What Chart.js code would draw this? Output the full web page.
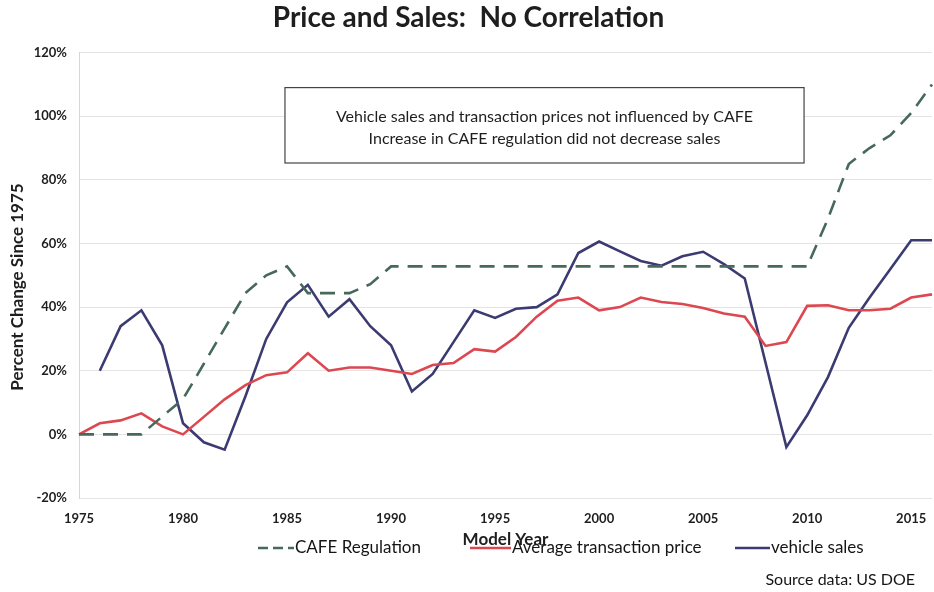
<!DOCTYPE html>
<html lang="en">
<head>
  <meta charset="UTF-8" />
  <title>Price and Sales: No Correlation</title>
  <style>
    html, body { margin: 0; padding: 0; background: #fff; overflow: hidden; }
  </style>
</head>
<body>

  <div style="width: 937px; height: 592px;">
    <canvas id="myChart" width="937" height="592"></canvas>
  </div>

  <script src="https://cdn.jsdelivr.net/npm/chart.js"></script>

  <script>
    // model years (category axis)
    const years = [1975, 1976, 1977, 1978, 1979, 1980, 1981, 1982, 1983, 1984,
      1985, 1986, 1987, 1988, 1989, 1990, 1991, 1992, 1993, 1994,
      1995, 1996, 1997, 1998, 1999, 2000, 2001, 2002, 2003, 2004,
      2005, 2006, 2007, 2008, 2009, 2010, 2011, 2012, 2013, 2014,
      2015, 2016];

    // percent change since 1975
    const cafeRegulation = [0, 0, 0, 0, 5.6, 11.1, 22.2, 33.3, 44.4, 50,
      52.8, 44.4, 44.4, 44.4, 47.2, 52.8, 52.8, 52.8, 52.8, 52.8,
      52.8, 52.8, 52.8, 52.8, 52.8, 52.8, 52.8, 52.8, 52.8, 52.8,
      52.8, 52.8, 52.8, 52.8, 52.8, 52.8, 67.8, 85, 90, 94,
      101, 110];

    const avgPrice = [0, 3.5, 4.4, 6.6, 2.5, 0, 5.5, 11, 15.5, 18.6,
      19.5, 25.5, 20, 21, 21, 20, 19, 21.8, 22.4, 26.8,
      26, 30.6, 37, 42, 43, 39, 40, 43, 41.6, 41,
      39.7, 38, 37, 27.8, 29, 40.4, 40.6, 39, 39, 39.5,
      43, 44];

    const vehicleSales = [null, 20, 34, 39, 28, 3.5, -2.5, -4.8, 12, 30,
      41.5, 47, 37, 42.5, 34, 28, 13.5, 19, 29, 39,
      36.6, 39.5, 40, 44, 57, 60.6, 57.5, 54.5, 53, 56,
      57.4, 53.5, 49, 22.5, -4, 6, 18, 33.5, 43, 52,
      61, 61];

    const yMin = -20;
    const yMax = 120;
    const yStep = 20;
    const labelEvery = 5;

    const yTitle = 'Percent Change Since 1975';
    const noteLines = [
      'Vehicle sales and transaction prices not influenced by CAFE',
      'Increase in CAFE regulation did not decrease sales'
    ];
    const sourceText = 'Source data: US DOE';

    const FONT = "Lato, 'DejaVu Sans', sans-serif";
    const cafeColor = '#46695a';
    const priceColor = '#dc4750';
    const salesColor = '#3b3b72';

    Chart.defaults.font.family = FONT;
    Chart.defaults.color = '#1e1e1e';

    // y title, text box, legend and source note
    const extras = {
      id: 'extras',
      afterDraw(chart) {
        const ctx = chart.ctx;
        const x = chart.scales.x, y = chart.scales.y;
        ctx.save();

        // y axis title
        ctx.save();
        ctx.translate(18, 287);
        ctx.rotate(-Math.PI / 2);
        ctx.font = 'bold 17px ' + FONT;
        ctx.fillStyle = '#1e1e1e';
        ctx.textAlign = 'center';
        ctx.textBaseline = 'middle';
        ctx.fillText(yTitle, 0, 0);
        ctx.restore();

        // note box
        const bl = x.getPixelForValue(9.9), br = x.getPixelForValue(34.85);
        const bt = y.getPixelForValue(109), bb = y.getPixelForValue(85.3);
        ctx.fillStyle = '#fff';
        ctx.fillRect(bl, bt, br - bl, bb - bt);
        ctx.strokeStyle = '#444';
        ctx.lineWidth = 1.2;
        ctx.strokeRect(bl, bt, br - bl, bb - bt);
        ctx.fillStyle = '#1e1e1e';
        ctx.font = '16px ' + FONT;
        ctx.textAlign = 'center';
        ctx.textBaseline = 'middle';
        const cx = (bl + br) / 2;
        ctx.fillText(noteLines[0], cx, bt + 29);
        ctx.fillText(noteLines[1], cx, bt + 51);

        // legend
        const ly = 548;
        const items = [
          { text: chart.data.datasets[0].label, color: cafeColor, dash: [10, 5], x1: 258, x2: 294 },
          { text: chart.data.datasets[1].label, color: priceColor, dash: [], x1: 470, x2: 511 },
          { text: chart.data.datasets[2].label, color: salesColor, dash: [], x1: 735, x2: 770 }
        ];
        ctx.textAlign = 'left';
        ctx.font = '17px ' + FONT;
        items.forEach((it) => {
          ctx.beginPath();
          ctx.setLineDash(it.dash);
          ctx.strokeStyle = it.color;
          ctx.lineWidth = 2.5;
          ctx.moveTo(it.x1, ly);
          ctx.lineTo(it.x2, ly);
          ctx.stroke();
          ctx.setLineDash([]);
          ctx.fillStyle = '#151515';
          ctx.fillText(it.text, it.x2 + 1, ly);
        });

        // source
        ctx.font = '16px ' + FONT;
        ctx.textAlign = 'right';
        ctx.fillText(sourceText, 915, 580);
        ctx.restore();
      }
    };

    const context = document.getElementById('myChart').getContext('2d');
    const myChart = new Chart(context, {
      type: 'line',
      data: {
        labels: years,
        datasets: [
          {
            label: 'CAFE Regulation',
            data: cafeRegulation,
            borderColor: cafeColor,
            borderDash: [15, 9],
            borderWidth: 2.6
          },
          {
            label: 'Average transaction price',
            data: avgPrice,
            borderColor: priceColor,
            borderWidth: 2.6
          },
          {
            label: 'vehicle sales',
            data: vehicleSales,
            borderColor: salesColor,
            borderWidth: 2.6
          }
        ]
      },
      options: {
        responsive: false,
        animation: false,
        layout: { padding: 0 },
        elements: {
          point: { radius: 0 },
          line: { tension: 0, fill: false }
        },
        plugins: {
          legend: { display: false },
          tooltip: { enabled: false },
          title: {
            display: true,
            text: 'Price and Sales:  No Correlation',
            color: '#1e1e1e',
            font: { size: 28, weight: 'bold' },
            padding: { top: 1, bottom: 18 }
          }
        },
        scales: {
          x: {
            offset: false,
            grid: { display: false },
            border: { display: false },
            ticks: {
              autoSkip: false,
              maxRotation: 0,
              padding: 5,
              font: { size: 13, weight: 'bold' },
              callback: function (value, index) {
                const yr = years[index];
                return (yr % labelEvery === 0) ? String(yr) : '';
              }
            },
            title: {
              display: true,
              text: 'Model Year',
              font: { size: 17, weight: 'bold' },
              padding: { top: 0, bottom: 42 }
            },
            afterFit: (scale) => { scale.height = 94; }
          },
          y: {
            min: yMin,
            max: yMax,
            grid: { color: '#e4e4e4', drawTicks: false },
            border: { display: true, color: '#d6d6d6' },
            ticks: {
              stepSize: yStep,
              padding: 12,
              font: { size: 13, weight: 'bold' },
              callback: (v) => v + '%'
            },
            title: { display: false },
            afterFit: (scale) => { scale.width = 79; }
          }
        }
      },
      plugins: [extras]
    });
  </script>

</body>
</html>
